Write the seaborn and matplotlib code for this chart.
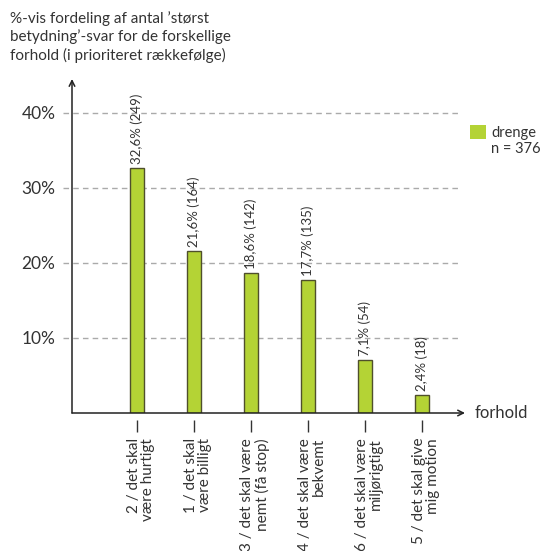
import numpy as np
import matplotlib
matplotlib.use("Agg")
import matplotlib.pyplot as plt
import matplotlib.patches as mpatches
import matplotlib.transforms as mtransforms
import seaborn as sns

# data
categories = ["2 / det skal\nvære hurtigt", "1 / det skal\nvære billigt",
              "3 / det skal være\nnemt (få stop)", "4 / det skal være\nbekvemt",
              "6 / det skal være\nmiljørigtigt", "5 / det skal give\nmig motion"]
percent = [32.6, 21.6, 18.6, 17.7, 7.1, 2.4]
counts = [249, 164, 142, 135, 54, 18]
yticks = [10, 20, 30, 40]
ytick_labels = ["10%", "20%", "30%", "40%"]
series_name = "drenge"
n_label = "n = 376"

GREEN = "#b4d335"
EDGE = "#4f4f2c"
TXT = "#333333"

sns.set_style("white")
plt.rcParams["font.family"] = ["Lato", "DejaVu Sans"]

W, H = 544, 551
fig = plt.figure(figsize=(W / 100, H / 100), dpi=100)
# axes box in pixels: x 72..465, y 79..413
ax = fig.add_axes([72 / W, (H - 413) / H, (465 - 72) / W, (413 - 79) / H])

sns.barplot(x=list(range(len(percent))), y=percent, color=GREEN, edgecolor=EDGE,
            linewidth=1.0, width=0.26, saturation=1, ax=ax, native_scale=True)

ax.set_xlim(-65 / 57, (465 - 137) / 57)
ax.set_ylim(0, 44.5)

# dashed grid lines
for t in yticks:
    ax.axhline(t, xmin=-0.023, xmax=0.987, color="#aaaaaa", lw=1.0,
               ls=(0, (4, 3)), clip_on=False, zorder=0)

for s in ax.spines.values():
    s.set_visible(False)

ax.set_yticks(yticks)
ax.set_yticklabels(ytick_labels, fontsize=12.5, color=TXT)
ax.tick_params(axis="y", length=0, pad=12)

ax.set_xticks(range(len(categories)))
ax.set_xticklabels(categories, rotation=90, fontsize=11, color=TXT,
                   va="top", ha="center", multialignment="right", linespacing=1.05)
ax.tick_params(axis="x", length=0, pad=18)
shift = mtransforms.ScaledTranslation(4 / 100, 0, fig.dpi_scale_trans)
for lab in ax.get_xticklabels():
    lab.set_transform(lab.get_transform() + shift)
ax.vlines(range(len(categories)), -0.021, -0.057, transform=ax.get_xaxis_transform(),
          color=TXT, lw=1.0, clip_on=False)
ax.set_xlabel("")
ax.set_ylabel("")

# value labels
for i, (p, c) in enumerate(zip(percent, counts)):
    ax.annotate(f"{p:.1f}".replace(".", ",") + f"% ({c})", xy=(i, p),
                xytext=(0, 3), textcoords="offset points", rotation=90,
                ha="center", va="bottom", fontsize=9.5, color=TXT)

# axis arrows
arrow = dict(arrowstyle="->", lw=1.1, color="#222222", shrinkA=0, shrinkB=0,
             mutation_scale=10)
ax.annotate("", xy=(1, 0), xytext=(0, 0), xycoords="axes fraction", arrowprops=arrow)
ax.annotate("", xy=(0, 1), xytext=(0, 0), xycoords="axes fraction", arrowprops=arrow)
ax.annotate("forhold", xy=(1, 0), xycoords="axes fraction", xytext=(7, 0),
            textcoords="offset points", va="center", ha="left", fontsize=12, color=TXT)

# legend
handles = [mpatches.Patch(facecolor=GREEN, edgecolor="none"),
           mpatches.Patch(visible=False)]
leg = fig.legend(handles, [series_name, n_label], loc="upper left",
                 bbox_to_anchor=(470 / W, 1 - 125 / H), frameon=False,
                 fontsize=10.5, handlelength=1.1, handleheight=1.1, borderpad=0,
                 handletextpad=0.35, labelspacing=0.05, borderaxespad=0)
for t in leg.get_texts():
    t.set_color(TXT)

fig.text(10 / W, 1 - 11 / H,
         "%-vis fordeling af antal \u2019størst\nbetydning\u2019-svar for de forskellige\n"
         "forhold (i prioriteret rækkefølge)",
         ha="left", va="top", fontsize=11, color=TXT, linespacing=1.3)

fig.savefig("out.png", dpi=100)
